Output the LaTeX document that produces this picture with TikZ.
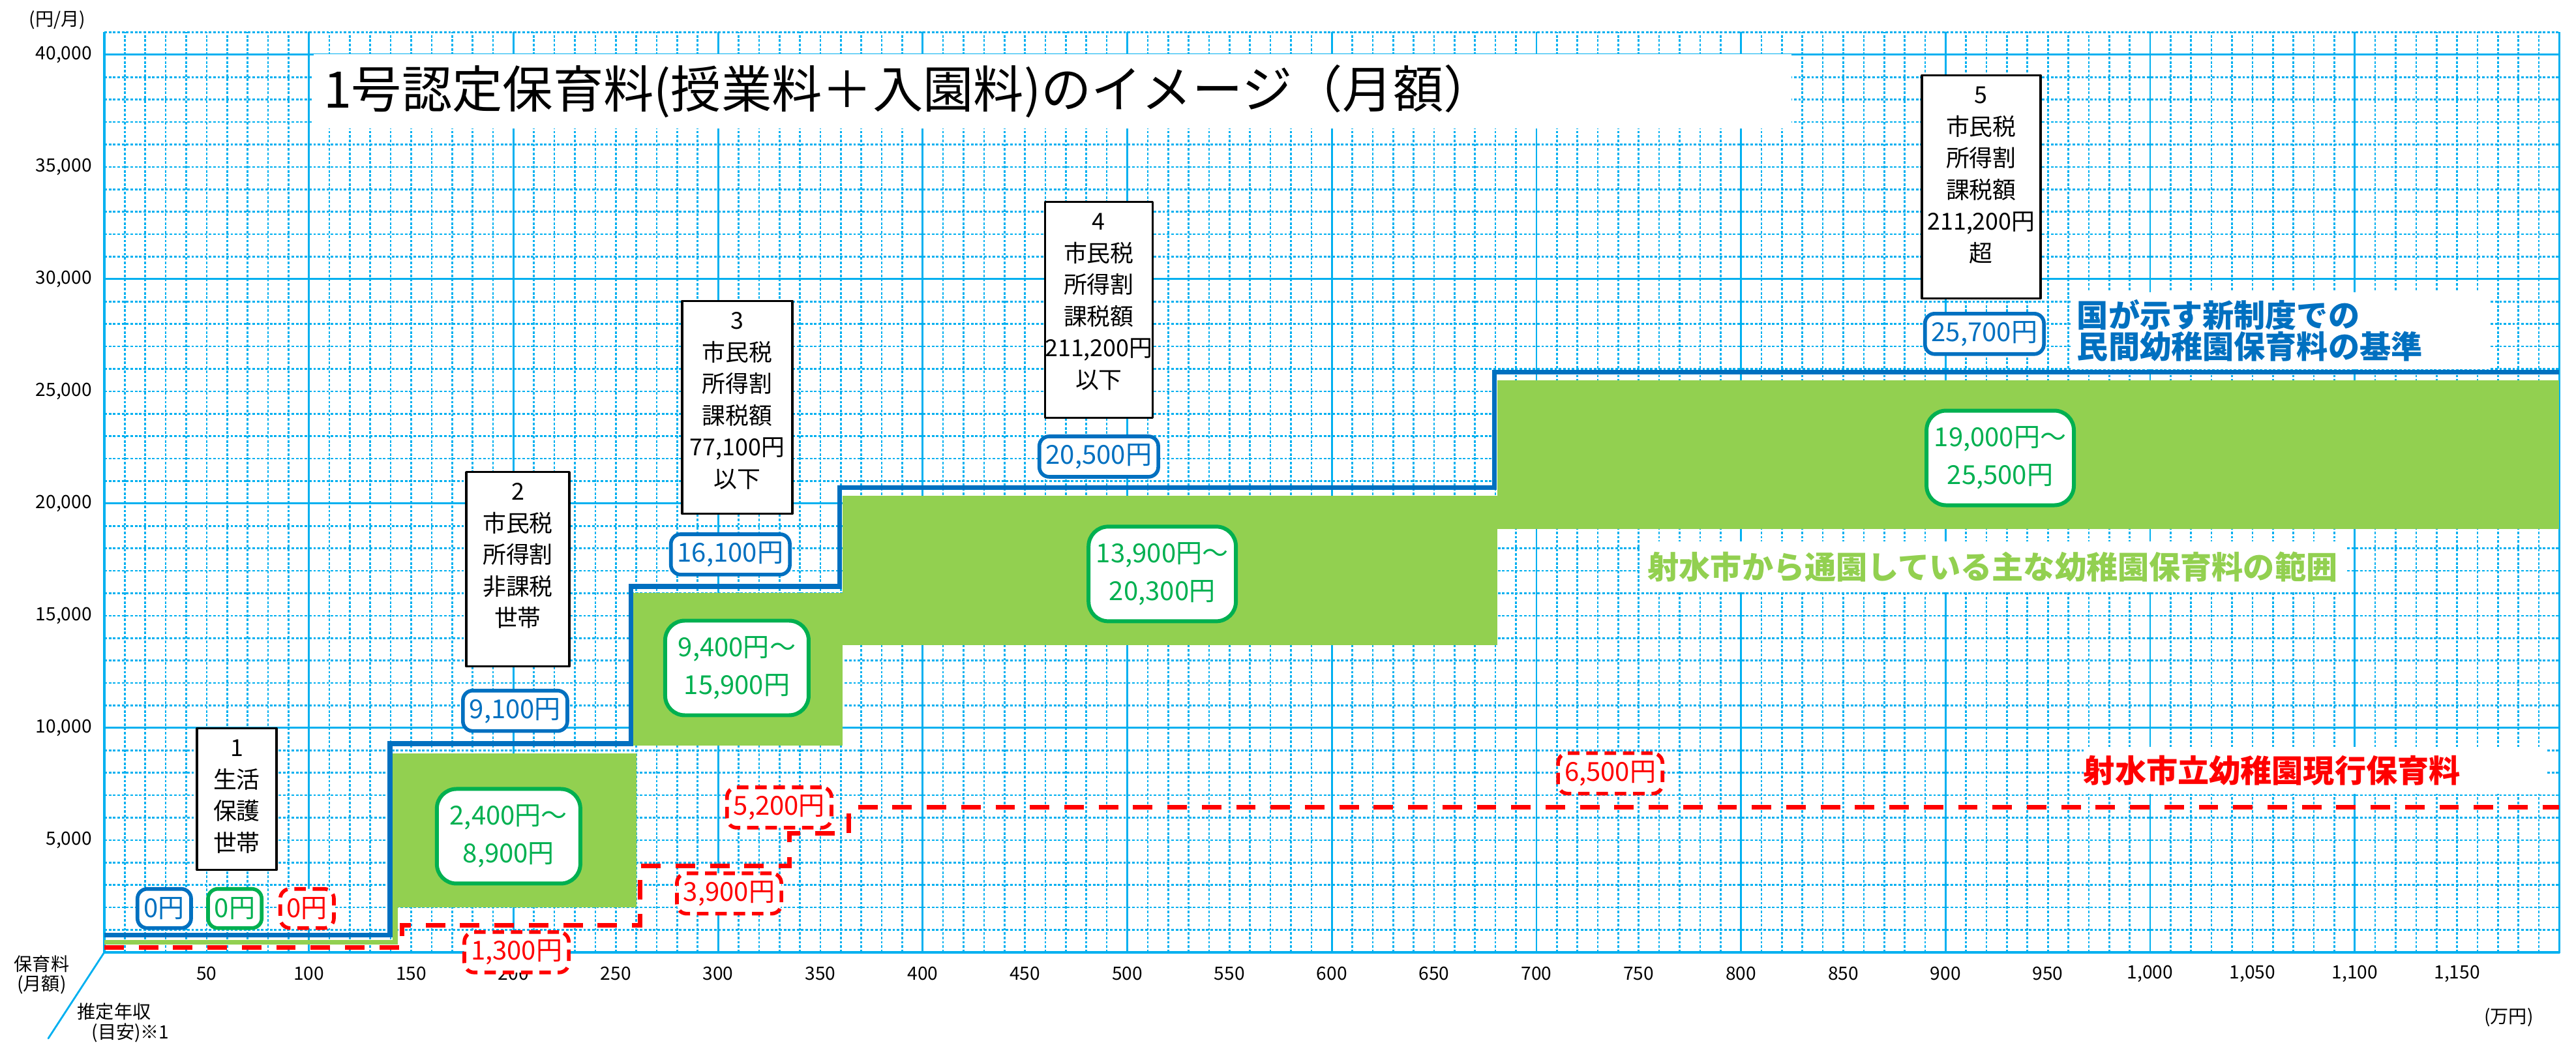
\documentclass[tikz,border=0pt]{standalone}
\usepackage{fontspec}
\setmainfont{Noto Sans CJK JP}
\usepackage{tikz}
\usetikzlibrary{positioning}
\definecolor{gridblue}{HTML}{00B0F0}
\definecolor{stdblue}{HTML}{0070C0}
\definecolor{rangegreen}{HTML}{00B050}
\definecolor{fillgreen}{HTML}{92D050}
\definecolor{cityred}{HTML}{FF0000}

\begin{document}
\begin{tikzpicture}[line cap=round,line join=round,x=0.03137cm,y=0.344cm,
  thingrid/.style={color=gridblue,line width=0.75pt,line cap=butt,dash pattern=on 1.1pt off 0.8pt},
  thickgrid/.style={color=gridblue,line width=0.8pt},
  catbox/.style={draw=black,fill=white,line width=1pt,inner sep=0pt,anchor=north,text height=0.43cm,font=\fontsize{10.2}{13.8}\selectfont},
  valbox/.style={fill=white,line width=1.6pt,rounded corners=0.15cm,inner xsep=0.1cm,minimum height=0.6cm,font=\fontsize{11.4}{13}\selectfont},
  stdbox/.style={valbox,draw=stdblue,text=stdblue},
  zerobox/.style={valbox,draw=rangegreen,text=rangegreen},
  citybox/.style={valbox,draw=cityred,text=cityred,line cap=butt,dash pattern=on 5pt off 3pt},
  rangebox/.style={draw=rangegreen,fill=white,text=rangegreen,line width=1.7pt,rounded corners=0.3cm,align=center,minimum width=2.2cm,minimum height=1.45cm,font=\fontsize{11.4}{16.5}\selectfont},
  legend/.style={fill=white,font=\bfseries\fontsize{13.7}{13.7}\selectfont},
  axislabel/.style={font=\fontsize{8}{9}\selectfont}]
\fill[white] (-51,-4.128) rectangle (1208.16,42.44);
\useasboundingbox (-51,-4.128) rectangle (1208.16,42.44);
% grid
\foreach \x in {10,20,...,1190}
\draw[thingrid] (\x,0) -- (\x,41);
\foreach \y in {1,...,41}
\draw[thingrid] (0,\y) -- (1200,\y);
\foreach \x in {100,200,...,1100}
\draw[thickgrid] (\x,0) -- (\x,41);
\foreach \y in {10,20,30,40}
\draw[thickgrid] (0,\y) -- (1200,\y);
\draw[color=gridblue,line width=1pt,line cap=butt] (0,41) -- (0,0) -- (1200,0) -- (1200,41);
\draw[color=gridblue,line width=0.8pt] (0,0) -- (-27.4,-3.84);
% axis labels
\foreach \y in {5,10,...,40}
\node[axislabel,anchor=east] (ylab\y) at (-2.2,\y) {\y,000};
\foreach \x in {50,100,...,950}
\node[axislabel] (xlab\x) at (\x,-0.96) {\x};
\foreach \x/\lab in {1000/{1,000},1050/{1,050},1100/{1,100},1150/{1,150}}
\node[axislabel] (xlab\x) at (\x,-0.96) {\lab};
\node[axislabel] (yunit) at (-22.95,41.54) {(円/月)};
\node[axislabel] (xunit) at (1175.3,-2.91) {(万円)};
\node[axislabel] (feea) at (-30.6,-0.52) {保育料};
\node[axislabel] (feeb) at (-30.6,-1.45) {(月額)};
\node[axislabel] (incomea) at (4.8,-2.65) {推定年収};
\node[axislabel] (incomeb) at (12.75,-3.6) {(目安)※1};
% range of private kindergartens
\fill[fillgreen] (0,0.35) rectangle (143.3,0.55);
\fill[fillgreen] (140.9,0.35) rectangle (143.3,2.0);
\fill[fillgreen] (140.9,2.0) rectangle (260,8.85);
\fill[fillgreen] (258.5,9.2) rectangle (361,16.0);
\fill[fillgreen] (361,13.7) rectangle (681,20.35);
\fill[fillgreen] (681,18.85) rectangle (1200,25.5);
% national standard
\draw[color=stdblue,line width=2.1pt,line cap=butt,line join=miter] (0,0.77) -- (139.6,0.77) -- (139.6,9.3) -- (257.4,9.3) -- (257.4,16.3) -- (359.4,16.3) -- (359.4,20.7) -- (679.5,20.7) -- (679.5,25.85) -- (1200,25.85);
% city kindergartens
\draw[color=cityred,line width=2pt,line cap=butt,line join=miter,dash pattern=on 8.5pt off 6.5pt] (0,0.2) -- (145.5,0.2) -- (145.5,1.2) -- (262,1.2) -- (262,3.85) -- (335,3.85) -- (335,5.3) -- (364,5.3) -- (364,6.45) -- (1200,6.45);
% title
\node[fill=white,text width=22.36cm,inner xsep=0.15cm,minimum height=1.14cm,align=left,font=\fontsize{22}{24}\selectfont] (title) at (463.5,38.37) {1号認定保育料(授業料＋入園料)のイメージ（月額）};
% income classes
\node[catbox,minimum width=1.22cm,text depth=1.74cm] (cat1) at (64.7,10.03) {\begin{tabular}[t]{@{}c@{}}1\\生活\\保護\\世帯\end{tabular}};
\node[catbox,minimum width=1.58cm,text depth=2.55cm] (cat2) at (202.1,21.45) {\begin{tabular}[t]{@{}c@{}}2\\市民税\\所得割\\非課税\\世帯\end{tabular}};
\node[catbox,minimum width=1.69cm,text depth=2.83cm] (cat3) at (309.4,29.07) {\begin{tabular}[t]{@{}c@{}}3\\市民税\\所得割\\課税額\\77,100円\\以下\end{tabular}};
\node[catbox,minimum width=1.64cm,text depth=2.88cm] (cat4) at (486.1,33.49) {\begin{tabular}[t]{@{}c@{}}4\\市民税\\所得割\\課税額\\211,200円\\以下\end{tabular}};
\node[catbox,minimum width=1.82cm,text depth=2.99cm] (cat5) at (917.4,39.13) {\begin{tabular}[t]{@{}c@{}}5\\市民税\\所得割\\課税額\\211,200円\\超\end{tabular}};
% fee labels
\node[stdbox] (std0) at (29.3,1.95) {0円};
\node[stdbox] (std1) at (200.8,10.76) {9,100円};
\node[stdbox] (std2) at (306.0,17.73) {16,100円};
\node[stdbox] (std3) at (486.1,22.09) {20,500円};
\node[stdbox] (std4) at (919.0,27.56) {25,700円};
\node[zerobox] (range0) at (63.8,1.95) {0円};
\node[rangebox] (range1) at (197.6,5.17) {2,400円～\\8,900円};
\node[rangebox] (range2) at (309.2,12.67) {9,400円～\\15,900円};
\node[rangebox] (range3) at (517.1,16.86) {13,900円～\\20,300円};
\node[rangebox] (range4) at (926.7,22.03) {19,000円～\\25,500円};
\node[citybox] (city0) at (99.1,1.95) {0円};
\node[citybox] (city1) at (201.5,0.0) {1,300円};
\node[citybox] (city2) at (305.4,2.62) {3,900円};
\node[citybox] (city3) at (329.9,6.45) {5,200円};
\node[citybox] (city4) at (736.1,7.97) {6,500円};
% legends
\node[legend,text=stdblue,text width=6.24cm,inner xsep=0.07cm,minimum height=1.08cm,align=left] (stdleg) at (1063.7,27.7) {国が示す新制度での\\民間幼稚園保育料の基準};
\node[legend,text=fillgreen,minimum width=10.79cm,minimum height=0.78cm] (rangeleg) at (923.0,17.18) {射水市から通園している主な幼稚園保育料の範囲};
\node[legend,text=cityred,text width=7.1cm,inner xsep=0pt,minimum height=0.72cm,align=left] (cityleg) at (1080.6,8.11) {射水市立幼稚園現行保育料};
\end{tikzpicture}
\end{document}
